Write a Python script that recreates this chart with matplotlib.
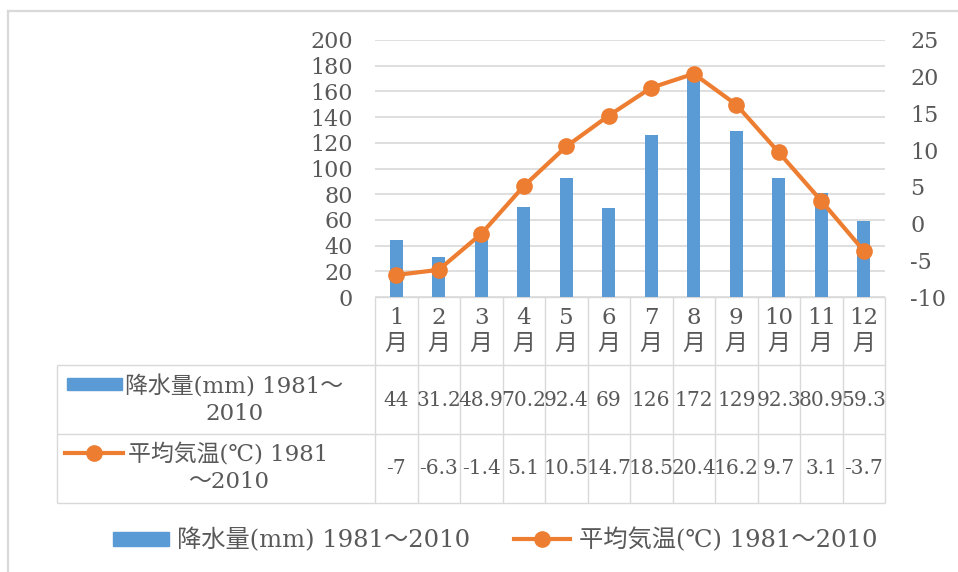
import numpy as np
import matplotlib
matplotlib.use("Agg")
import matplotlib.pyplot as plt
from matplotlib.patches import Rectangle
from matplotlib.lines import Line2D
from matplotlib.transforms import blended_transform_factory

months = ["1\n月", "2\n月", "3\n月", "4\n月", "5\n月", "6\n月",
          "7\n月", "8\n月", "9\n月", "10\n月", "11\n月", "12\n月"]
precip = [44, 31.2, 48.9, 70.2, 92.4, 69, 126, 172, 129, 92.3, 80.9, 59.3]
temp = [-7, -6.3, -1.4, 5.1, 10.5, 14.7, 18.5, 20.4, 16.2, 9.7, 3.1, -3.7]
precip_label = "降水量(mm) 1981～2010"
temp_label = "平均気温(℃) 1981～2010"
precip_head = "降水量(mm) 1981～\n2010"
temp_head = "平均気温(℃) 1981\n～2010"

BLUE = "#5B9BD5"
ORANGE = "#ED7D31"
TXT = "#595959"
GRID = "#D9D9D9"
FS = 16.5

plt.rcParams["font.family"] = ["DejaVu Serif", "Noto Sans CJK JP"]
plt.rcParams["font.size"] = FS
plt.rcParams["axes.unicode_minus"] = False
plt.rcParams["text.color"] = TXT

W, H = 958, 572
fig = plt.figure(figsize=(W / 100, H / 100), dpi=100)

# pixel-space overlay for frame + data table
ov = fig.add_axes([0, 0, 1, 1], zorder=-1)
ov.set_xlim(0, W)
ov.set_ylim(H, 0)
ov.axis("off")

# plot area
x0, x1, ytop, ybot = 375, 885, 40, 297
ax = fig.add_axes([x0 / W, 1 - ybot / H, (x1 - x0) / W, (ybot - ytop) / H])
x = np.arange(len(months))
ax.bar(x, precip, width=0.31, color=BLUE, zorder=2)
ax.set_xlim(-0.5, len(months) - 0.5)
ax.set_ylim(0, 200)
ax.set_yticks(np.arange(0, 201, 20))
ax.set_xticks([])
ax.grid(axis="y", color=GRID, linewidth=1.2, zorder=0)
ax.tick_params(axis="y", length=0, pad=16, labelcolor=TXT, labelsize=16)
for s in ax.spines.values():
    s.set_visible(False)

ax2 = ax.twinx()
ax2.plot(x, temp, color=ORANGE, linewidth=3.0, marker="o", markersize=11)
ax2.set_ylim(-10, 25)
ax2.set_yticks(np.arange(-10, 26, 5))
ax2.tick_params(axis="y", length=0, pad=18, labelcolor=TXT, labelsize=16)
for s in ax2.spines.values():
    s.set_visible(False)

# outer chart frame (cropped at right/bottom)
ov.plot([8, 8], [11, H], color=GRID, linewidth=1.6)
ov.plot([8, W], [11, 11], color=GRID, linewidth=1.6)

# data table
blend = blended_transform_factory(ax.transData, ov.transData)
edges = np.arange(len(months) + 1) - 0.5
ov.vlines(edges, ybot, 503, color=GRID, linewidth=1.0, transform=blend)
ov.hlines([ybot], x0, x1, color=GRID, linewidth=1.0)
ov.hlines([365, 434, 503], 57, x1, color=GRID, linewidth=1.0)
ov.vlines([57], 365, 503, color=GRID, linewidth=1.0)

for i, m in enumerate(months):
    ov.text(i, 331, m, transform=blend, ha="center", va="center",
            multialignment="center", linespacing=1.2)
    ov.text(i, 400, f"{precip[i]:g}", transform=blend, ha="center",
            va="center", fontsize=14.5)
    ov.text(i, 469, f"{temp[i]:g}", transform=blend, ha="center",
            va="center", fontsize=14.5)

# row headers with legend keys
ov.add_patch(Rectangle((67, 378), 55, 12, color=BLUE))
ov.text(125, 400, precip_head, ha="left", va="center",
        multialignment="center", linespacing=1.3)
ov.add_artist(Line2D([65, 94, 123], [453, 453, 453], color=ORANGE,
                     linewidth=3.0, marker="o", markersize=11, markevery=[1]))
ov.text(128, 468, temp_head, ha="left", va="center",
        multialignment="center", linespacing=1.3)

# legend at the bottom
h_bar = Rectangle((0, 0), 1, 1, color=BLUE)
h_line = Line2D([], [], color=ORANGE, linewidth=3.0, marker="o", markersize=11)
fig.legend([h_bar, h_line], [precip_label, temp_label], loc="center",
           bbox_to_anchor=(495 / W, 1 - 540 / H), ncol=2, frameon=False,
           handlelength=2.3, handleheight=0.5, handletextpad=0.35,
           columnspacing=1.8, fontsize=17.5)

fig.savefig("out.png", dpi=100)
